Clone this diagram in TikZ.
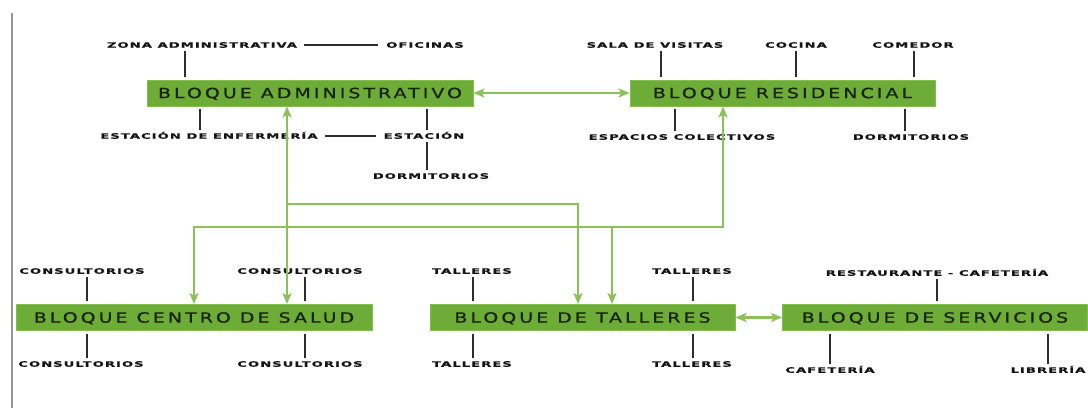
\documentclass[tikz,border=0pt]{standalone}
\usepackage{fontspec}
\usetikzlibrary{arrows.meta}
\newfontfamily\boxfont[FakeStretch=1.35,LetterSpace=22,FakeBold=1]{DejaVu Sans}
\newfontfamily\lblfont[FakeStretch=1.75,LetterSpace=14,FakeBold=0.6]{DejaVu Sans}
\definecolor{boxg}{RGB}{110,172,56}
\definecolor{boxb}{RGB}{132,188,80}
\definecolor{boxt}{RGB}{22,36,12}
\definecolor{lineg}{RGB}{140,192,88}
\definecolor{tickc}{RGB}{45,45,45}
\definecolor{lblt}{RGB}{20,20,20}
\definecolor{edgec}{RGB}{150,150,150}
\begin{document}
\begin{tikzpicture}[x=1pt,y=-1pt,
  blk/.style={fill=boxg, draw=boxb, line width=0.8pt, minimum height=26pt, inner sep=0pt,
    text=boxt, font=\boxfont\fontsize{14}{14}\selectfont, text height=10.2pt, text depth=0pt},
  lbl/.style={font=\lblfont\bfseries\fontsize{7.5}{7.5}\selectfont, text=lblt, inner sep=0pt,
    text height=5.5pt, text depth=0pt},
  tick/.style={draw=tickc, line width=1.3pt, shorten <=3pt, shorten >=3pt},
  gline/.style={draw=lineg, line width=2.2pt},
  gtip/.style={arrows={Stealth[length=11pt,width=9pt,inset=2.5pt,fill=lineg]-Stealth[length=11pt,width=9pt,inset=2.5pt,fill=lineg]}},
  gend/.style={arrows={-Stealth[length=11pt,width=9pt,inset=2.5pt,fill=lineg]}}
]
\fill[white] (0,0) rectangle (1088,412);
\draw[edgec, line width=2pt] (12,13) -- (12,408);

% blocks
\node[blk, minimum width=326pt] (adm) at (310,93) {BLOQUE ADMINISTRATIVO};
\node[blk, minimum width=305pt] (res) at (782.5,93) {BLOQUE RESIDENCIAL};
\node[blk, minimum width=356pt] (sal) at (194,317.5) {BLOQUE CENTRO DE SALUD};
\node[blk, minimum width=305pt] (tal) at (582.5,317.5) {BLOQUE DE TALLERES};
\node[blk, minimum width=305pt] (ser) at (935,317.5) {BLOQUE DE SERVICIOS};

% administrative labels
\node[lbl] (zona) at (202,45) {ZONA ADMINISTRATIVA};
\node[lbl] (ofi) at (425,45) {OFICINAS};
\node[lbl] (enf) at (209,136) {ESTACIÓN DE ENFERMERÍA};
\node[lbl] (est) at (424,136) {ESTACIÓN};
\node[lbl] (dor1) at (431,176) {DORMITORIOS};
\draw[tick, shorten <=7pt, shorten >=8pt] (zona.east) -- (ofi.west);
\draw[tick, shorten <=7pt, shorten >=8pt] (enf.east) -- (est.west);
\draw[tick] (185,0 |- zona.south) -- (185,0 |- adm.north);
\draw[tick] (200,0 |- adm.south) -- (200,0 |- enf.north);
\draw[tick] (427,0 |- adm.south) -- (427,0 |- est.north);
\draw[tick] (427,0 |- est.south) -- (427,0 |- dor1.north);

% residential labels
\node[lbl] (sala) at (655,45) {SALA DE VISITAS};
\node[lbl] (coc) at (796,45) {COCINA};
\node[lbl] (com) at (913,45) {COMEDOR};
\node[lbl] (esp) at (682,137) {ESPACIOS COLECTIVOS};
\node[lbl] (dor2) at (911,137) {DORMITORIOS};
\draw[tick] (661,0 |- sala.south) -- (661,0 |- res.north);
\draw[tick] (796,0 |- coc.south) -- (796,0 |- res.north);
\draw[tick] (914,0 |- com.south) -- (914,0 |- res.north);
\draw[tick] (675,0 |- res.south) -- (675,0 |- esp.north);
\draw[tick] (905,0 |- res.south) -- (905,0 |- dor2.north);

% health center labels
\node[lbl] (c1) at (82,271) {CONSULTORIOS};
\node[lbl] (c2) at (300,271) {CONSULTORIOS};
\node[lbl] (c3) at (81,364) {CONSULTORIOS};
\node[lbl] (c4) at (300,364) {CONSULTORIOS};
\draw[tick] (87,0 |- c1.south) -- (87,0 |- sal.north);
\draw[tick] (305,0 |- c2.south) -- (305,0 |- sal.north);
\draw[tick] (87,0 |- sal.south) -- (87,0 |- c3.north);
\draw[tick] (305,0 |- sal.south) -- (305,0 |- c4.north);

% workshop labels
\node[lbl] (t1) at (472,271) {TALLERES};
\node[lbl] (t2) at (692,271) {TALLERES};
\node[lbl] (t3) at (472,364) {TALLERES};
\node[lbl] (t4) at (692,364) {TALLERES};
\draw[tick] (473,0 |- t1.south) -- (473,0 |- tal.north);
\draw[tick] (693,0 |- t2.south) -- (693,0 |- tal.north);
\draw[tick] (473,0 |- tal.south) -- (473,0 |- t3.north);
\draw[tick] (693,0 |- tal.south) -- (693,0 |- t4.north);

% services labels
\node[lbl] (rc) at (937,273) {RESTAURANTE - CAFETERÍA};
\node[lbl] (caf) at (830,370) {CAFETERÍA};
\node[lbl] (lib) at (1048,370) {LIBRERÍA};
\draw[tick] (937,0 |- rc.south) -- (937,0 |- ser.north);
\draw[tick] (830,0 |- ser.south) -- (830,0 |- caf.north);
\draw[tick] (1048,0 |- ser.south) -- (1048,0 |- lib.north);

% green connectors
\coordinate (j1) at (287,204);
\coordinate (j2) at (578,204);
\coordinate (k1) at (723,227);
\coordinate (k2) at (194,227);
\coordinate (k3) at (612,227);
\draw[gline, gtip] (adm.east) -- (res.west);
\draw[gline, gtip] (tal.east) -- (ser.west);
\draw[gline, gtip] (287,0 |- adm.south) -- (287,0 |- sal.north);
\draw[gline, gend] (j1) -- (j2) -- (j2 |- tal.north);
\draw[gline, gtip] (k1 |- res.south) -- (k1) -- (k2) -- (k2 |- sal.north);
\draw[gline, gend] (k3) -- (k3 |- tal.north);
\end{tikzpicture}
\end{document}
